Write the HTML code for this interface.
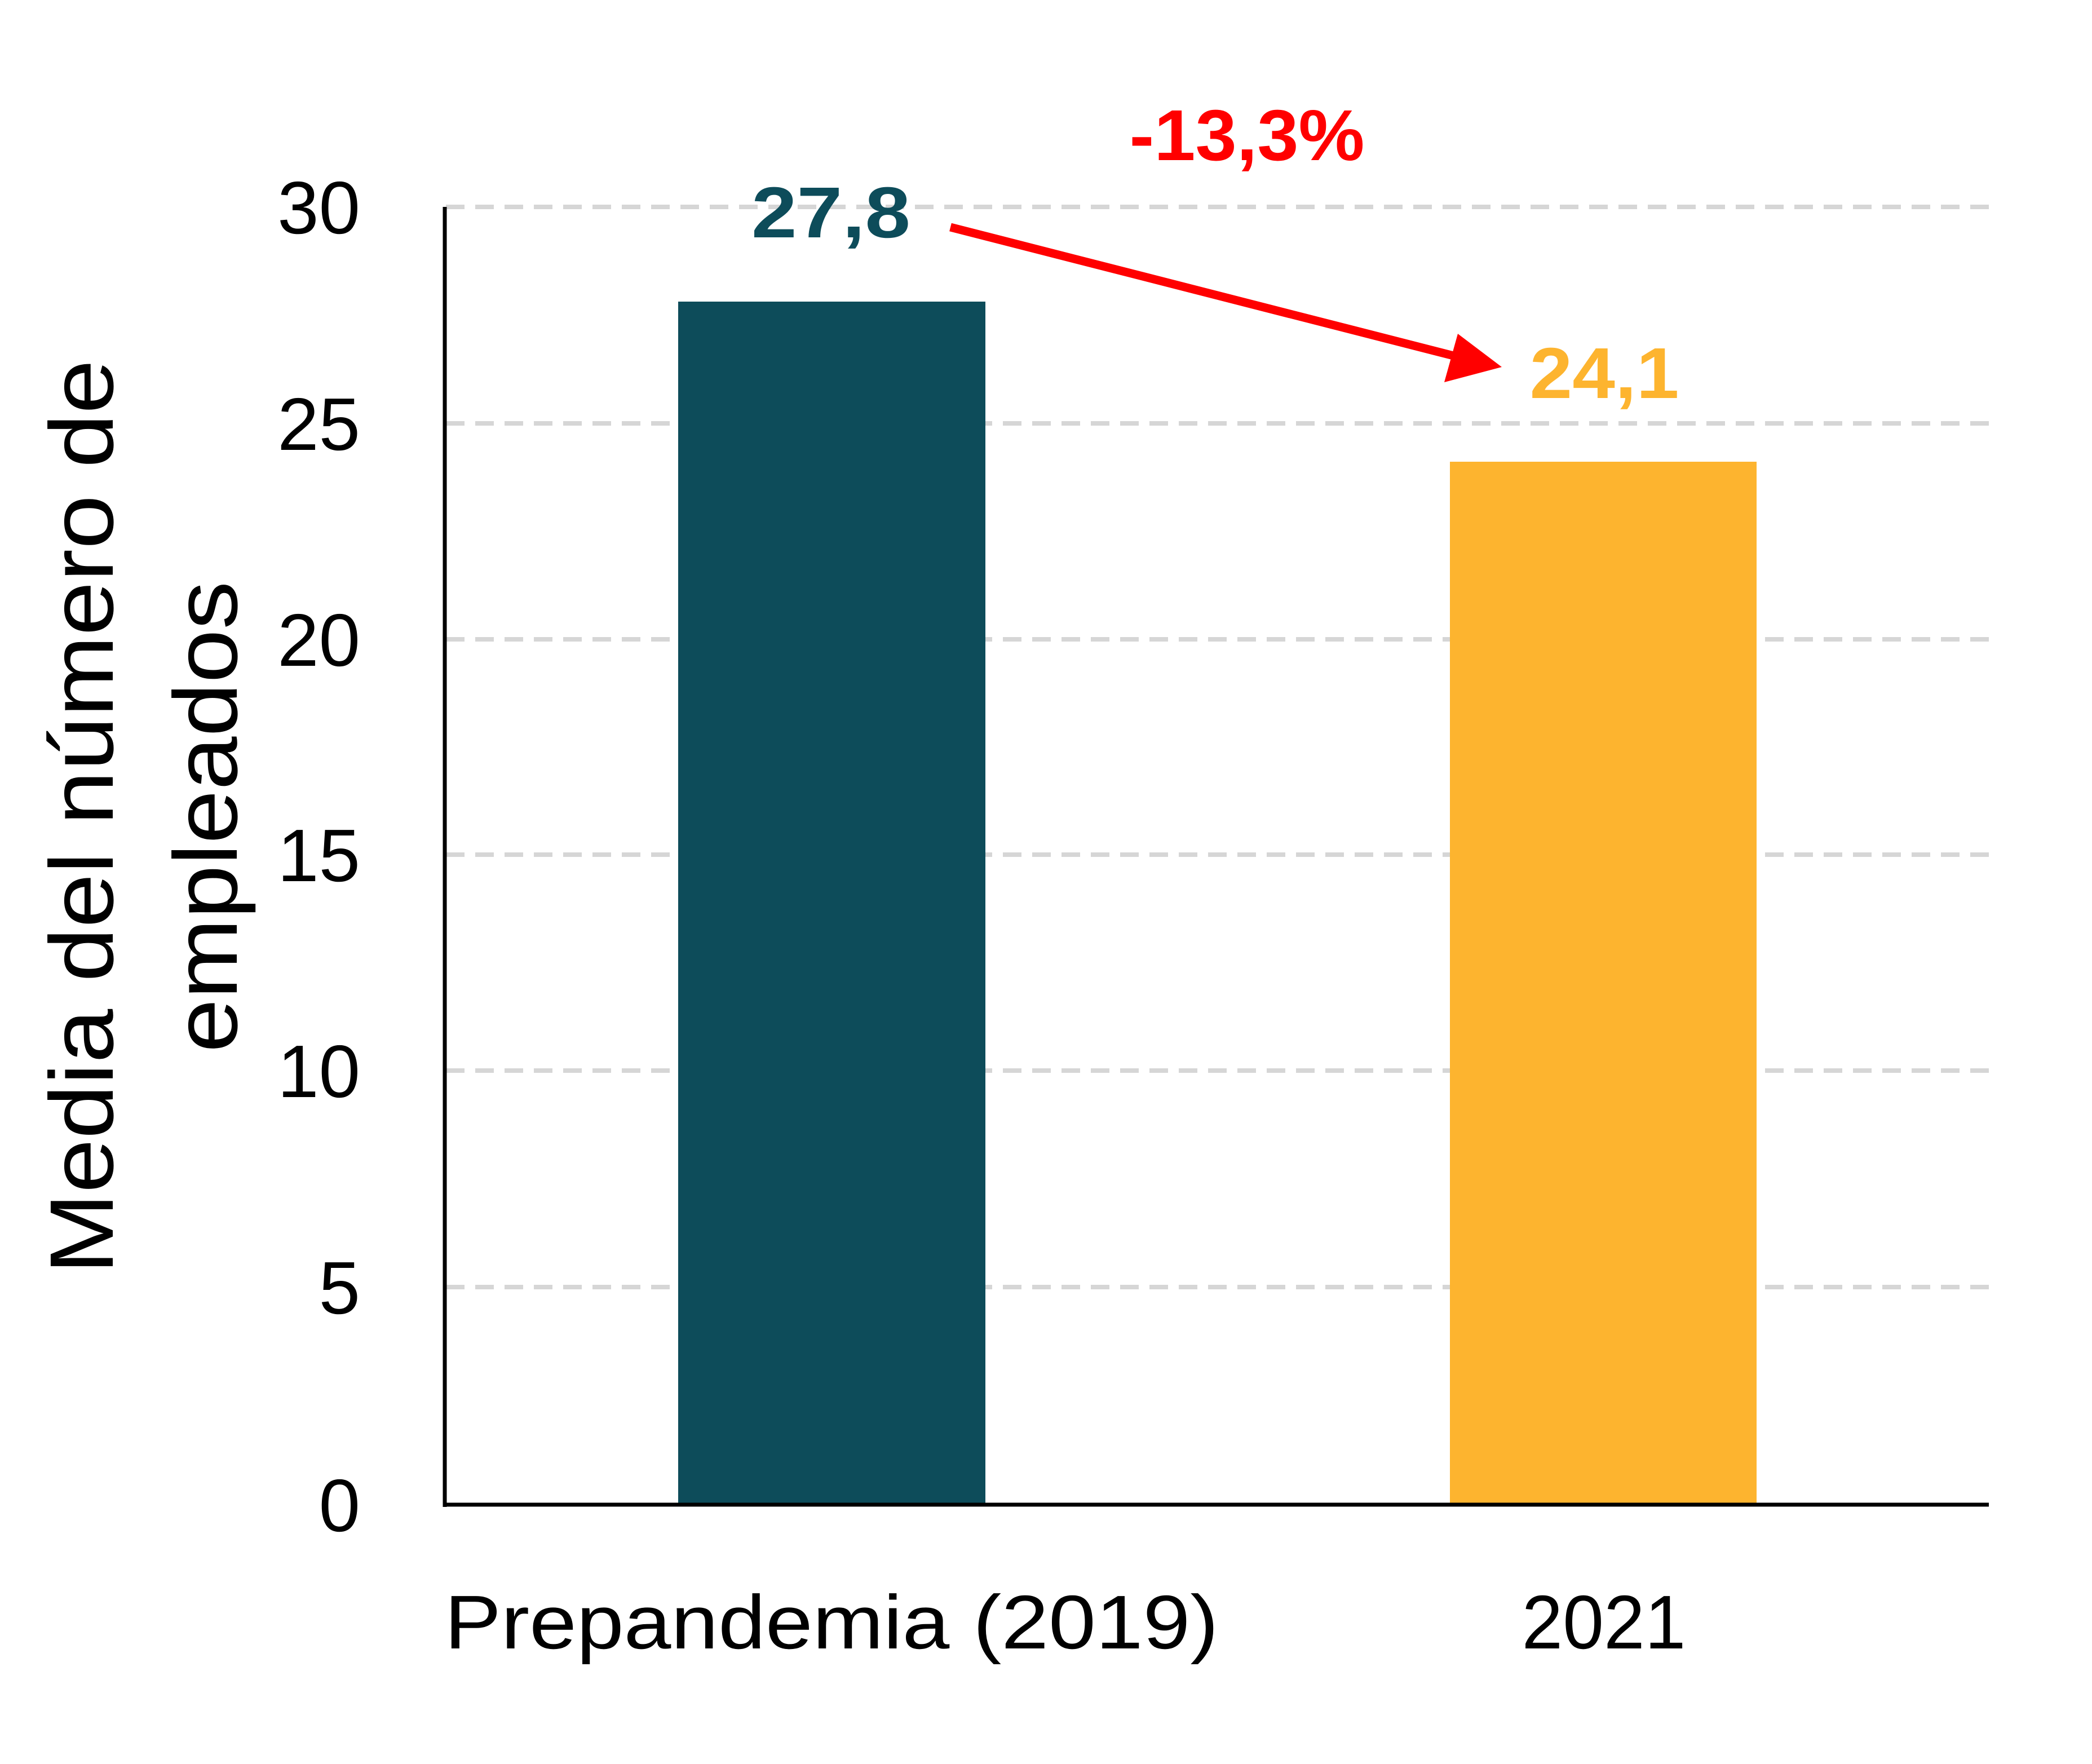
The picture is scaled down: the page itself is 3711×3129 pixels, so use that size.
<!DOCTYPE html>
<html><head><meta charset="utf-8"><style>
html,body{margin:0;padding:0;background:#fff;}
</style></head><body>
<svg width="3711" height="3124" viewBox="0 0 3711 3124" xmlns="http://www.w3.org/2000/svg" font-family="Liberation Sans, sans-serif">
<rect width="3711" height="3124" fill="#fff"/>
<g stroke="#d6d6d6" stroke-width="8" stroke-dasharray="33,19">
<line x1="791" y1="367" x2="3528" y2="367"/>
<line x1="791" y1="751" x2="3528" y2="751"/>
<line x1="791" y1="1134" x2="3528" y2="1134"/>
<line x1="791" y1="1516" x2="3528" y2="1516"/>
<line x1="791" y1="1899" x2="3528" y2="1899"/>
<line x1="791" y1="2283" x2="3528" y2="2283"/>
</g>
<rect x="1203" y="535" width="545" height="2134" fill="#0d4c5a"/>
<rect x="2572" y="819" width="544" height="1850" fill="#fdb42f"/>
<line x1="789" y1="367" x2="789" y2="2673" stroke="#000" stroke-width="7"/>
<line x1="786" y1="2669" x2="3528" y2="2669" stroke="#000" stroke-width="7"/>
<g font-size="132" text-anchor="end" fill="#000">
<text x="639" y="414">30</text>
<text x="639" y="798">25</text>
<text x="639" y="1181">20</text>
<text x="639" y="1563">15</text>
<text x="639" y="1946">10</text>
<text x="639" y="2330">5</text>
<text x="639" y="2716">0</text>
</g>
<g font-size="160" text-anchor="middle" fill="#000" transform="rotate(-90)">
<text x="-1449" y="200" textLength="1622" lengthAdjust="spacingAndGlyphs">Media del número de</text>
<text x="-1449" y="420" textLength="836" lengthAdjust="spacingAndGlyphs">empleados</text>
</g>
<g font-size="135" text-anchor="middle" fill="#000">
<text x="1475" y="2924" textLength="1373" lengthAdjust="spacingAndGlyphs">Prepandemia (2019)</text>
<text x="2845" y="2924" textLength="291" lengthAdjust="spacingAndGlyphs">2021</text>
</g>
<g font-size="128" font-weight="bold" text-anchor="middle">
<text x="1474" y="421" fill="#0d4c5a" textLength="282" lengthAdjust="spacingAndGlyphs">27,8</text>
<text x="2846" y="706" fill="#fdb42f" textLength="265" lengthAdjust="spacingAndGlyphs">24,1</text>
<text x="2212" y="284" fill="#ff0000" textLength="417" lengthAdjust="spacingAndGlyphs">-13,3%</text>
</g>
<line x1="1686" y1="403" x2="2590" y2="634" stroke="#ff0000" stroke-width="15"/>
<polygon points="2664,651 2562,678 2586,592" fill="#ff0000"/>
</svg>
</body></html>
